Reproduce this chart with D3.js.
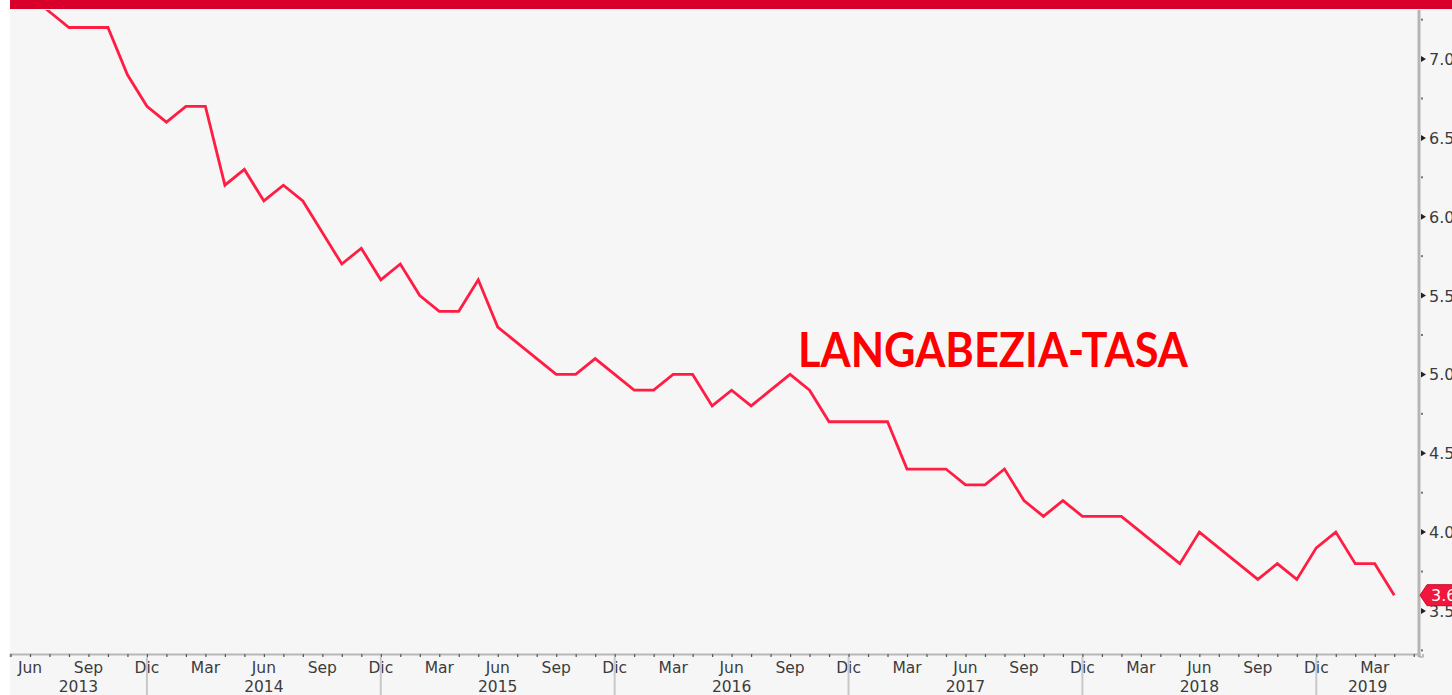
<!DOCTYPE html>
<html>
<head>
<meta charset="utf-8">
<script src="https://cdn.jsdelivr.net/npm/d3@7"></script>
<style>
  html, body { margin: 0; padding: 0; background: #ffffff; }
  svg { display: block; }
</style>
</head>
<body>
<svg id="chart" width="1452" height="695"></svg>
<script>
// ---- Data ----
const title = "LANGABEZIA-TASA";
// Monthly values, Jun 2013 .. Apr 2019 (month index 0 = Jun 2013)
const monthNames = ["Jun","Jul","Ago","Sep","Oct","Nov","Dic","Ene","Feb","Mar","Abr","May"];
const values = [
  7.4, 7.3, 7.2, 7.2, 7.2, 6.9, 6.7,            // Jun-Dic 2013
  6.6, 6.7, 6.7, 6.2, 6.3, 6.1, 6.2, 6.1, 5.9, 5.7, 5.8, 5.6, // 2014
  5.7, 5.5, 5.4, 5.4, 5.6, 5.3, 5.2, 5.1, 5.0, 5.0, 5.1, 5.0, // 2015
  4.9, 4.9, 5.0, 5.0, 4.8, 4.9, 4.8, 4.9, 5.0, 4.9, 4.7, 4.7, // 2016
  4.7, 4.7, 4.4, 4.4, 4.4, 4.3, 4.3, 4.4, 4.2, 4.1, 4.2, 4.1, // 2017
  4.1, 4.1, 4.0, 3.9, 3.8, 4.0, 3.9, 3.8, 3.7, 3.8, 3.7, 3.9, // 2018
  4.0, 3.8, 3.8, 3.6                                        // Ene-Abr 2019
];
const labeledMonths = ["Jun","Sep","Dic","Mar"];
const years = ["2013","2014","2015","2016","2017","2018","2019"];
const yTicks = [3.5, 4.0, 4.5, 5.0, 5.5, 6.0, 6.5, 7.0];
const lastValue = 3.6;

// ---- Layout ----
const svg = d3.select("#chart");
const W = 1452, H = 695;
const plotL = 10, plotR = 1419, plotT = 10, plotB = 654;

const x = d3.scaleLinear().domain([-1.026, 71.27]).range([plotL, plotR]);
const y = d3.scaleLinear().domain([3.227, 7.311]).range([plotB, plotT]);

// background
svg.append("rect").attr("x", plotL).attr("y", 0).attr("width", W - plotL).attr("height", H).attr("fill", "#f6f6f6");
// top red bar
svg.append("rect").attr("x", plotL).attr("y", 0).attr("width", W - plotL).attr("height", 9).attr("fill", "#d8002a");

// clip
svg.append("clipPath").attr("id", "clip")
  .append("rect").attr("x", plotL).attr("y", plotT).attr("width", plotR - plotL).attr("height", plotB - plotT);

// line
const pts = values.map((v, i) => ({ i, v }));
const line = d3.line().x(d => x(d.i)).y(d => y(d.v));
svg.append("path")
  .datum(pts)
  .attr("clip-path", "url(#clip)")
  .attr("d", line)
  .attr("fill", "none")
  .attr("stroke", "#ff1d44")
  .attr("stroke-width", 2.8)
  .attr("stroke-linejoin", "miter");

// title
svg.append("text")
  .attr("x", 798).attr("y", 367)
  .attr("font-family", "Lato, 'Open Sans', sans-serif")
  .attr("font-weight", "bold")
  .attr("font-size", 47)
  .attr("fill", "#ff0000")
  .attr("textLength", 390)
  .attr("lengthAdjust", "spacingAndGlyphs")
  .text(title);

// ---- X axis ----
const monthIdx = d3.range(-1, 72);
const xAxis = d3.axisBottom(x).tickValues(monthIdx).tickSize(3).tickFormat("");
const gx = svg.append("g").attr("transform", `translate(0,${plotB})`).call(xAxis);
gx.select(".domain").attr("stroke", "#b8b8b8").attr("stroke-width", 2);
gx.selectAll(".tick line").attr("stroke", "#555").attr("stroke-width", 1.2);

const monthLabelOf = i => monthNames[((i % 12) + 12) % 12];
const labelIdx = d3.range(0, values.length).filter(i => labeledMonths.includes(monthLabelOf(i)));
svg.append("g").selectAll("text").data(labelIdx).join("text")
  .attr("x", d => x(d)).attr("y", 673)
  .attr("text-anchor", "middle")
  .attr("font-family", "'DejaVu Sans', sans-serif")
  .attr("font-size", 15.5)
  .attr("fill", "#3c3c3c")
  .text(d => monthLabelOf(d));

// year separators at Dic positions
const decIdx = labelIdx.filter(i => monthLabelOf(i) === "Dic");
svg.append("g").selectAll("line").data(decIdx).join("line")
  .attr("x1", d => x(d)).attr("x2", d => x(d))
  .attr("y1", plotB + 3).attr("y2", H)
  .attr("stroke", "#c8c8c8").attr("stroke-width", 2);

const bounds = [plotL, ...decIdx.map(d => x(d)), plotR];
svg.append("g").selectAll("text").data(years).join("text")
  .attr("x", (d, i) => (bounds[i] + bounds[i + 1]) / 2)
  .attr("y", 692)
  .attr("text-anchor", "middle")
  .attr("font-family", "'DejaVu Sans', sans-serif")
  .attr("font-size", 15.5)
  .attr("fill", "#3c3c3c")
  .text(d => d);

// ---- Y axis (right) ----
svg.append("line")
  .attr("x1", plotR).attr("x2", plotR).attr("y1", plotT).attr("y2", plotB + 3)
  .attr("stroke", "#b5b5b5").attr("stroke-width", 3);
// corner hook
svg.append("path")
  .attr("d", `M${plotR},${plotB + 3} L${plotR + 4},${plotB + 3} L${plotR + 4},${plotB}`)
  .attr("fill", "none").attr("stroke", "#999").attr("stroke-width", 1.2);

const minor = d3.range(3.25, 7.31, 0.25).filter(v => !yTicks.some(t => Math.abs(t - v) < 1e-6));
svg.append("g").selectAll("rect").data(minor).join("rect")
  .attr("x", plotR + 2).attr("y", d => y(d) - 1).attr("width", 2).attr("height", 2)
  .attr("fill", "#777");

svg.append("g").selectAll("path").data(yTicks).join("path")
  .attr("d", d => `M${plotR + 2},${y(d) - 3} L${plotR + 7},${y(d)} L${plotR + 2},${y(d) + 3} Z`)
  .attr("fill", "#222");

svg.append("g").selectAll("text").data(yTicks).join("text")
  .attr("x", plotR + 10).attr("y", d => y(d) + 6)
  .attr("font-family", "'DejaVu Sans', sans-serif")
  .attr("font-size", 16)
  .attr("fill", "#3c3c3c")
  .text(d => d3.format(".1f")(d));

// last value tag
const ty = y(lastValue);
svg.append("path")
  .attr("d", `M${plotR + 1},${ty} L${plotR + 8},${ty - 10.5} L${W + 5},${ty - 10.5} L${W + 5},${ty + 10.5} L${plotR + 8},${ty + 10.5} Z`)
  .attr("fill", "#f0163c").attr("stroke", "#c8102e").attr("stroke-width", 1)
  .attr("stroke-linejoin", "round");
svg.append("text")
  .attr("x", plotR + 12).attr("y", ty + 6)
  .attr("font-family", "'DejaVu Sans', sans-serif")
  .attr("font-size", 16)
  .attr("fill", "#ffffff")
  .text(d3.format(".1f")(lastValue));
</script>
</body>
</html>
